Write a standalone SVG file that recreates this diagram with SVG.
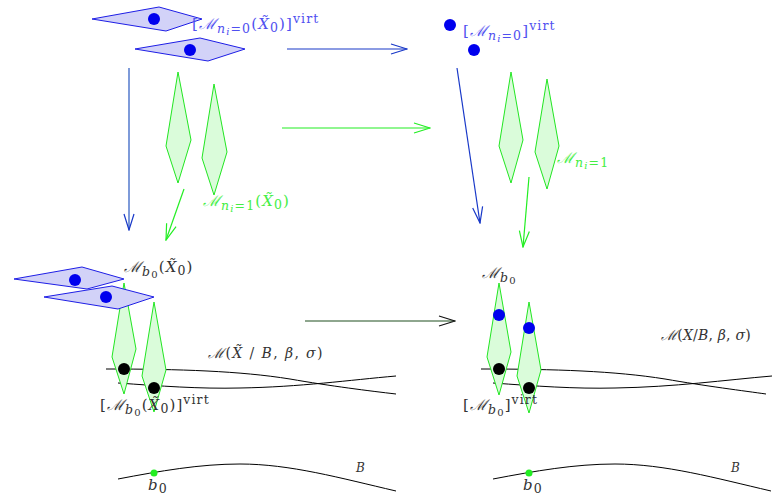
<svg xmlns="http://www.w3.org/2000/svg" width="772" height="500" viewBox="0 0 772 500">
<defs>
<style>
text{font-family:"DejaVu Serif","Liberation Serif",serif;font-size:15px;letter-spacing:1.1px}
.it{font-style:italic}
.s{font-size:12.5px}
.ss{font-size:10px}
.bl{fill:#5050f0}
.gl{fill:#44ee44}
.kl{fill:#333}
.bd{fill:#d2d2f8;stroke:#1e1ee6;stroke-width:1}
.gd{fill:#dafcda;stroke:#22e622;stroke-width:1}
.bdot{fill:#0000ee}
.kdot{fill:#000}
.curve{fill:none;stroke:#000;stroke-width:1}
.arr-b{stroke:#1838c8;stroke-width:1.2;fill:none}
.arr-g{stroke:#22ee22;stroke-width:1.2;fill:none}
.arr-k{stroke:#1f4f1f;stroke-width:1.2;fill:none}
</style>
<marker id="hb" viewBox="-17 -6 18 12" refX="0" refY="0" markerWidth="18" markerHeight="12" markerUnits="userSpaceOnUse" orient="auto"><path d="M-16,-5 L0,0 L-16,5" fill="none" stroke="#1838c8" stroke-width="1.2"/></marker>
<marker id="hg" viewBox="-17 -6 18 12" refX="0" refY="0" markerWidth="18" markerHeight="12" markerUnits="userSpaceOnUse" orient="auto"><path d="M-16,-5 L0,0 L-16,5" fill="none" stroke="#22ee22" stroke-width="1.2"/></marker>
<marker id="hk" viewBox="-17 -6 18 12" refX="0" refY="0" markerWidth="18" markerHeight="12" markerUnits="userSpaceOnUse" orient="auto"><path d="M-16,-5 L0,0 L-16,5" fill="none" stroke="#111" stroke-width="1.2"/></marker>
</defs>

<g id="connectors">
<path class="arr-b" d="M287,49 L407,49" marker-end="url(#hb)"/>
<path class="arr-b" d="M129,68 L129,230" style="stroke:#2858c0" marker-end="url(#hb)"/>
<path class="arr-b" d="M457,68 L480,223" marker-end="url(#hb)"/>
<path class="arr-g" d="M282,128 L430,128" marker-end="url(#hg)"/>
<path class="arr-g" d="M184,189 L166,240" marker-end="url(#hg)"/>
<path class="arr-g" d="M529,177 L523,247" marker-end="url(#hg)"/>
<path class="arr-k" d="M305,321 L455,321" marker-end="url(#hk)"/>
</g>

<g id="node-top-left">
<polygon class="bd" points="92,19 159,7 202,19 166,31"/>
<circle class="bdot" cx="154" cy="19" r="6"/>
<polygon class="bd" points="135,49 200,38 245,49 208,61"/>
<circle class="bdot" cx="190" cy="50" r="6"/>
<polygon class="gd" points="178,72 191,140 178,183 166,146"/>
<polygon class="gd" points="214,84 227,152 214,195 202,158"/>
<text class="bl" x="192" y="29">[<tspan class="it">ℳ</tspan><tspan class="s it" dy="4">n</tspan><tspan class="ss it" dy="2">i</tspan><tspan class="s" dy="-2">=0</tspan><tspan dy="-4">(</tspan><tspan class="it">X̃</tspan><tspan class="s" dy="3">0</tspan><tspan dy="-3">)]</tspan><tspan class="s" dy="-6">virt</tspan></text>
<text class="gl" x="203" y="206"><tspan class="it">ℳ</tspan><tspan class="s it" dy="4">n</tspan><tspan class="ss it" dy="2">i</tspan><tspan class="s" dy="-2">=1</tspan><tspan dy="-4">(</tspan><tspan class="it">X̃</tspan><tspan class="s" dy="3">0</tspan><tspan dy="-3">)</tspan></text>
</g>

<g id="node-top-right">
<circle class="bdot" cx="450" cy="25" r="6"/>
<circle class="bdot" cx="474" cy="50" r="6"/>
<polygon class="gd" points="511,72 523,140 511,183 499,146"/>
<polygon class="gd" points="547,79 559,146 547,189 535,152"/>
<text class="bl" x="463" y="36">[<tspan class="it">ℳ</tspan><tspan class="s it" dy="4">n</tspan><tspan class="ss it" dy="2">i</tspan><tspan class="s" dy="-2">=0</tspan><tspan dy="-4">]</tspan><tspan class="s" dy="-6">virt</tspan></text>
<text class="gl" x="557" y="163"><tspan class="it">ℳ</tspan><tspan class="s it" dy="4">n</tspan><tspan class="ss it" dy="2">i</tspan><tspan class="s" dy="-2">=1</tspan></text>
</g>

<g id="node-bottom-left">
<path class="curve" d="M106,369 C180,369 240,371 290,379 C330,386 370,391 396,394"/>
<path class="curve" d="M118,383 C160,386 200,389 240,388 C300,387 350,380 396,376"/>
<polygon class="gd" points="124,283 136,349 124,394 112,357"/>
<polygon class="gd" points="154,302 166,370 154,412 142,376"/>
<polygon class="bd" points="14,279 82,267 124,279 87,289"/>
<circle class="bdot" cx="75" cy="280" r="6"/>
<polygon class="bd" points="44,297 112,286 154,297 118,309"/>
<circle class="bdot" cx="106" cy="297" r="6"/>
<circle class="kdot" cx="124" cy="369" r="6"/>
<circle class="kdot" cx="154" cy="388" r="6"/>
<text class="kl" x="124" y="272"><tspan class="it">ℳ</tspan><tspan class="s it" dy="4">b</tspan><tspan class="ss" dy="2">0</tspan><tspan dy="-6">(</tspan><tspan class="it">X̃</tspan><tspan class="s" dy="3">0</tspan><tspan dy="-3">)</tspan></text>
<text class="kl" x="208" y="358" style="font-size:14px;letter-spacing:1.4px"><tspan class="it">ℳ</tspan>(<tspan class="it">X̃</tspan> / <tspan class="it">B</tspan>, <tspan class="it">β</tspan>, <tspan class="it">σ</tspan>)</text>
<text class="kl" x="100" y="410">[<tspan class="it">ℳ</tspan><tspan class="s it" dy="4">b</tspan><tspan class="ss" dy="2">0</tspan><tspan dy="-6">(</tspan><tspan class="it">X̃</tspan><tspan class="s" dy="3">0</tspan><tspan dy="-3">)]</tspan><tspan class="s" dy="-6">virt</tspan></text>
<path class="curve" d="M118,479 C160,471 200,464 240,464 C290,464 340,478 396,491"/>
<circle cx="154" cy="473" r="3.5" fill="#22ee22"/>
<text class="kl it" x="356" y="472" style="font-size:12px">B</text>
<text class="kl" x="148" y="490"><tspan class="it">b</tspan><tspan class="s" dy="3">0</tspan></text>
</g>

<g id="node-bottom-right">
<path class="curve" d="M481,369 C555,369 615,371 665,379 C705,386 745,391 766,394"/>
<path class="curve" d="M493,383 C535,386 575,389 615,388 C675,387 725,380 772,376"/>
<polygon class="gd" points="499,283 511,352 499,395 487,357"/>
<polygon class="gd" points="529,302 541,370 529,413 517,376"/>
<circle class="bdot" cx="499" cy="315" r="6"/>
<circle class="bdot" cx="529" cy="328" r="6"/>
<circle class="kdot" cx="499" cy="369" r="6"/>
<circle class="kdot" cx="529" cy="388" r="6"/>
<text class="kl" x="482" y="278"><tspan class="it">ℳ</tspan><tspan class="s it" dy="4">b</tspan><tspan class="ss" dy="2">0</tspan></text>
<text class="kl" x="661" y="340" style="font-size:14px;letter-spacing:0.2px"><tspan class="it">ℳ</tspan>(<tspan class="it">X</tspan>/<tspan class="it">B</tspan>, <tspan class="it">β</tspan>, <tspan class="it">σ</tspan>)</text>
<text class="kl" x="463" y="410">[<tspan class="it">ℳ</tspan><tspan class="s it" dy="4">b</tspan><tspan class="ss" dy="2">0</tspan><tspan dy="-6">]</tspan><tspan class="s" dy="-6">virt</tspan></text>
<path class="curve" d="M493,479 C535,471 575,464 615,464 C665,464 715,478 771,491"/>
<circle cx="529" cy="473" r="3.5" fill="#22ee22"/>
<text class="kl it" x="731" y="472" style="font-size:12px">B</text>
<text class="kl" x="523" y="490"><tspan class="it">b</tspan><tspan class="s" dy="3">0</tspan></text>
</g>
</svg>
